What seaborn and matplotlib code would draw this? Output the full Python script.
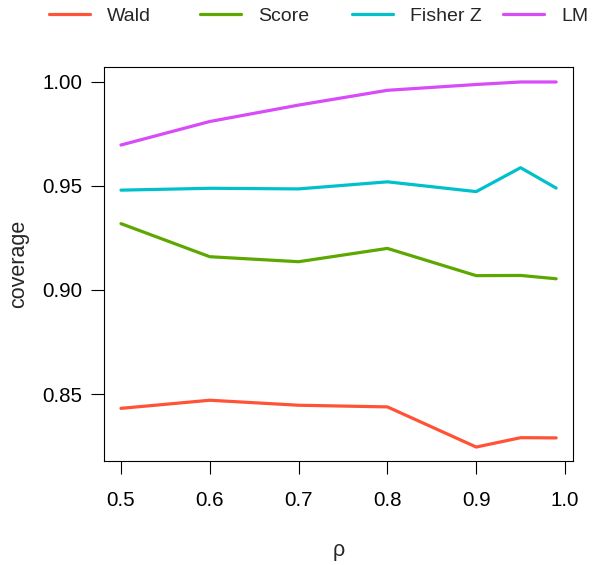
import matplotlib
matplotlib.use("Agg")
import matplotlib.pyplot as plt
import seaborn as sns
import pandas as pd

rho = [0.5, 0.6, 0.7, 0.8, 0.9, 0.95, 0.99]
wald = [0.8431, 0.8470, 0.8446, 0.8438, 0.8245, 0.8290, 0.8289]
score = [0.9319, 0.9160, 0.9136, 0.9200, 0.9069, 0.9070, 0.9054]
fisher_z = [0.9480, 0.9489, 0.9486, 0.9520, 0.9473, 0.9588, 0.9490]
lm = [0.9697, 0.9810, 0.9889, 0.9960, 0.9988, 1.0000, 1.0000]

methods = ["Wald", "Score", "Fisher Z", "LM"]
colors = ["#FF5236", "#5DA800", "#00C1CB", "#D84BF9"]
x_ticks = [0.5, 0.6, 0.7, 0.8, 0.9, 1.0]
x_tick_labels = ["0.5", "0.6", "0.7", "0.8", "0.9", "1.0"]
y_ticks = [0.85, 0.90, 0.95, 1.00]
y_tick_labels = ["0.85", "0.90", "0.95", "1.00"]

df = pd.DataFrame({
    "rho": rho * 4,
    "coverage": wald + score + fisher_z + lm,
    "method": sum([[m] * len(rho) for m in methods], []),
})

sns.set_style("ticks")
plt.rcParams["font.family"] = ["Liberation Sans", "DejaVu Sans"]
FS_TICK = 14.8
FS_LAB = 15.5
FS_LEG = 14

fig = plt.figure(figsize=(5.93, 5.65), dpi=100)
ax = fig.add_axes([0.1754, 0.1841, 0.7909, 0.6973])
sns.lineplot(data=df, x="rho", y="coverage", hue="method", hue_order=methods,
             palette=colors, linewidth=2.3, ax=ax, legend=True)

ax.set_xlim(0.4809, 1.009)
ax.set_ylim(0.8178, 1.0072)
ax.set_xticks(x_ticks)
ax.set_xticklabels(x_tick_labels, fontsize=FS_TICK)
ax.set_yticks(y_ticks)
ax.set_yticklabels(y_tick_labels, fontsize=FS_TICK)
ax.tick_params(direction="out", length=9.4, width=0.8, colors="black")
ax.tick_params(axis="x", pad=12)
ax.tick_params(axis="y", pad=6.3)
for s in ax.spines.values():
    s.set_visible(True)
    s.set_color("black")
    s.set_linewidth(0.8)
ax.set_xlabel("ρ", fontsize=FS_LAB, labelpad=22)
ax.set_ylabel("coverage", fontsize=FS_LAB, labelpad=9)

handles, labels = ax.get_legend_handles_labels()
ax.get_legend().remove()
W, H = 593.0, 565.0
starts = [49, 200, 352, 503]
for h, l, xs in zip(handles, labels, starts):
    fig.legend([h], [l], loc="center left", bbox_to_anchor=(xs / W, 1 - 16.5 / H),
               frameon=False, fontsize=FS_LEG, handlelength=2.1, handletextpad=0.88,
               borderpad=0, borderaxespad=0)

fig.savefig("out.png", dpi=100)
